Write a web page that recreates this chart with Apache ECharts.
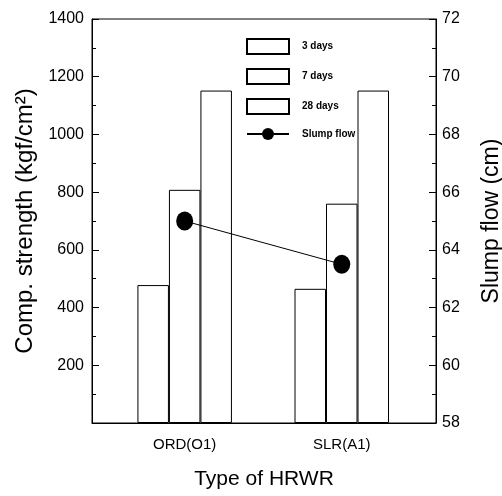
<!DOCTYPE html>
<html>
<head>
<meta charset="utf-8">
<script src="https://cdn.jsdelivr.net/npm/echarts@6/dist/echarts.min.js"></script>
<style>
html, body { margin: 0; padding: 0; background: #fff; }
#chart { width: 502px; height: 496px; }
</style>
</head>
<body>
<div id="chart"></div>
<script>
// categories and values
var categories = ['ORD(O1)', 'SLR(A1)'];
var days3 = [478, 465];
var days7 = [808, 760];
var days28 = [1152, 1152];
var slumpFlow = [65.0, 63.5];

var narrow = '"Liberation Sans Narrow", "Arial Narrow", "Liberation Sans", Arial, sans-serif';
var plain = '"Liberation Sans", Arial, sans-serif';

// bars sit on a value x axis so the groups can be placed like the original
function pairs(arr) {
    return arr.map(function (v, i) { return [i, v]; });
}

function barSeries(name, arr) {
    return {
        name: name,
        type: 'bar',
        data: pairs(arr),
        barWidth: 31.5,
        barGap: '0%',
        itemStyle: { color: '#fff', borderColor: '#000', borderWidth: 1 },
        emphasis: { disabled: true },
        z: 2
    };
}

var chart = echarts.init(document.getElementById('chart'));
chart.setOption({
    animation: false,
    backgroundColor: '#fff',
    grid: {
        left: 92, right: 66, top: 19, bottom: 73,
        outerBoundsMode: 'none',
        containLabel: false,
        show: true, borderColor: '#000', borderWidth: 1, backgroundColor: 'transparent'
    },
    legend: {
        orient: 'vertical',
        left: 241,
        top: 33,
        itemWidth: 42,
        itemHeight: 15,
        itemGap: 13,
        textStyle: {
            fontFamily: narrow, fontSize: 10, color: '#000', fontWeight: 'bold',
            padding: [0, 0, 0, 8]
        },
        data: [
            { name: '3 days', icon: 'rect' },
            { name: '7 days', icon: 'rect' },
            { name: '28 days', icon: 'rect' },
            { name: 'Slump flow' }
        ]
    },
    xAxis: {
        type: 'value',
        min: -0.59,
        max: 1.6,
        name: 'Type of HRWR',
        nameLocation: 'middle',
        nameGap: 46,
        nameTextStyle: { fontFamily: narrow, fontSize: 21, color: '#000' },
        axisLine: { show: true, lineStyle: { color: '#000', width: 1 } },
        axisTick: { show: false },
        splitLine: { show: false },
        axisLabel: {
            customValues: [0, 1],
            formatter: function (v) { return categories[Math.round(v)]; },
            fontFamily: narrow, fontSize: 15, color: '#000', margin: 14
        }
    },
    yAxis: [{
        type: 'value',
        min: 0,
        max: 1400,
        interval: 200,
        name: 'Comp. strength (kgf/cm\u00b2)',
        nameLocation: 'middle',
        nameGap: 54,
        nameTextStyle: { fontFamily: plain, fontSize: 24, color: '#000' },
        axisLine: { show: true, onZero: false, lineStyle: { color: '#000', width: 1 } },
        axisTick: { show: true, inside: true, length: 7, lineStyle: { color: '#000' } },
        minorTick: { show: true, splitNumber: 2, length: 4, lineStyle: { color: '#000' } },
        splitLine: { show: false },
        axisLabel: {
            fontFamily: narrow, fontSize: 16, color: '#000', margin: 8,
            formatter: function (v) { return v === 0 ? '' : v; }
        }
    }, {
        type: 'value',
        min: 58,
        max: 72,
        interval: 2,
        position: 'right',
        name: 'Slump flow (cm)',
        nameLocation: 'middle',
        nameGap: 44,
        nameRotate: 90,
        nameTextStyle: { fontFamily: plain, fontSize: 23, color: '#000' },
        axisLine: { show: true, onZero: false, lineStyle: { color: '#000', width: 1 } },
        axisTick: { show: true, inside: true, length: 7, lineStyle: { color: '#000' } },
        minorTick: { show: true, splitNumber: 2, length: 4, lineStyle: { color: '#000' } },
        splitLine: { show: false },
        axisLabel: { fontFamily: narrow, fontSize: 16, color: '#000', margin: 6 }
    }],
    series: [
        barSeries('3 days', days3),
        barSeries('7 days', days7),
        barSeries('28 days', days28),
        {
            name: 'Slump flow',
            type: 'line',
            yAxisIndex: 1,
            data: pairs(slumpFlow),
            symbol: 'circle',
            symbolSize: [17, 19],
            itemStyle: { color: '#000' },
            lineStyle: { color: '#000', width: 1 },
            emphasis: { disabled: true },
            z: 5
        }
    ]
});
</script>
</body>
</html>
